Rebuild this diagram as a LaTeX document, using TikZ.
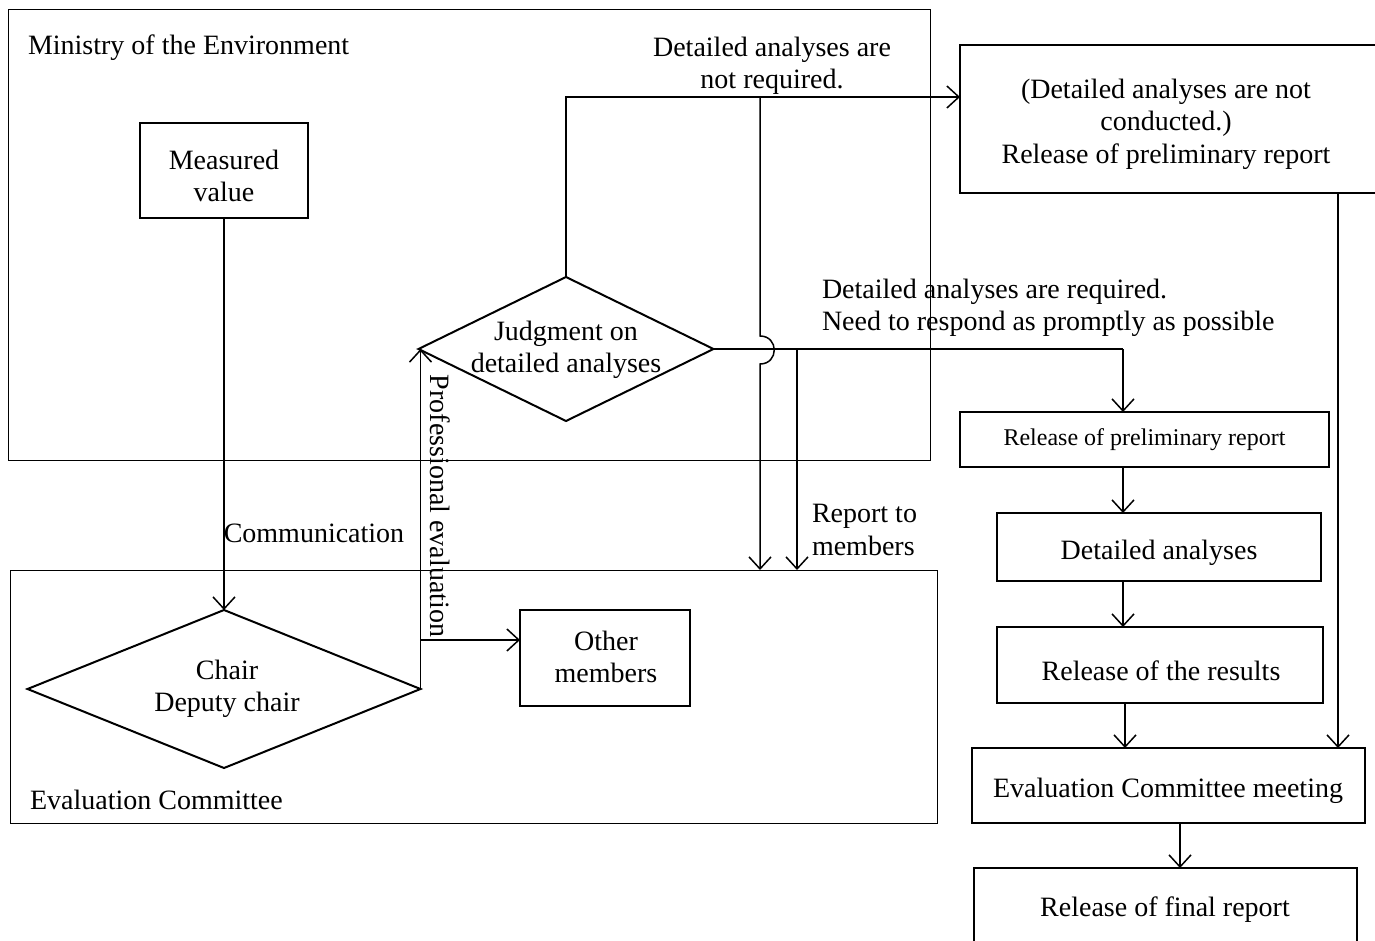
\documentclass[tikz,border=0pt]{standalone}
\usepackage{fontspec}
\setmainfont{Liberation Serif}
\usetikzlibrary{arrows.meta,shapes.geometric}
\begin{document}
\begin{tikzpicture}[x=1pt,y=-1pt,
  every node/.style={font=\fontsize{28}{32.5}\selectfont, inner sep=0pt, outer sep=0pt},
  frame/.style={draw, line width=1pt, rectangle},
  box/.style={draw, line width=2pt, rectangle},
  dia/.style={draw, line width=2pt, diamond},
  conn/.style={line width=1.5pt, -{Straight Barb[length=12pt,width=22pt]}},
  plain/.style={line width=1.5pt},
  lbl/.style={align=center, yshift=-3pt},
  lbll/.style={align=left, anchor=west, yshift=-3pt}]
\useasboundingbox (0,0) rectangle (1375,941);
% frames
\node[frame, minimum width=922pt, minimum height=450pt] (ministry) at (469,235) {};
\node[frame, minimum width=927pt, minimum height=253pt] (committee) at (473.5,696.5) {};
\node[lbll] (mtitle) at (28,45) {Ministry of the Environment};
\node[lbll] (ctitle) at (30,797) {Evaluation Committee};
% left side
\node[box, minimum width=168pt, minimum height=95pt] (meas) at (224,170.5) {};
\node[lbl] (meast) at (224,173) {Measured\\value};
\node[dia, minimum width=393pt, minimum height=158pt] (chair) at (224,689) {};
\node[lbl] (chairt) at (227,686) {Chair\\Deputy chair};
\node[box, minimum width=170pt, minimum height=96pt] (other) at (605,658) {};
\node[lbl] (othert) at (606,654) {Other\\members};
\node[dia, minimum width=295pt, minimum height=144pt] (judge) at (566,349) {};
\node[lbl] (judget) at (566,347) {Judgment on\\detailed analyses};
\node[lbl] (comm) at (314,530) {Communication};
\node[rotate=-90, xshift=0pt] (prof) at (440,506) {Professional evaluation};
% right side
\node[box, minimum width=416pt, minimum height=148pt, anchor=north west] (toprel) at (960,45) {};
\node[lbl] (toprelt) at (1166,121) {(Detailed analyses are not\\conducted.)\\Release of preliminary report};
\node[box, minimum width=369pt, minimum height=55pt] (prelim) at (1144.5,439.5) {};
\node[lbl, font=\fontsize{24}{28}\selectfont] (prelimt) at (1144.5,437) {Release of preliminary report};
\node[box, minimum width=324pt, minimum height=68pt] (detail) at (1159,547) {};
\node[lbl] (detailt) at (1159,550) {Detailed analyses};
\node[box, minimum width=326pt, minimum height=76pt] (results) at (1160,665) {};
\node[lbl] (resultst) at (1161,668) {Release of the results};
\node[box, minimum width=393pt, minimum height=75pt] (meeting) at (1168.5,785.5) {};
\node[lbl] (meetingt) at (1168,788) {Evaluation Committee meeting};
\node[box, minimum width=383pt, minimum height=74pt, anchor=north west] (final) at (974,868) {};
\node[lbl] (finalt) at (1165,907) {Release of final report};
% labels
\node[lbl] (notreq) at (772,63) {Detailed analyses are\\not required.};
\node[lbll] (req) at (822,305) {Detailed analyses are required.\\Need to respond as promptly as possible};
\node[lbll] (rep) at (812,527) {Report to\\members};
% coordinates
\coordinate (ja) at (760,97);
\coordinate (jb) at (797,349);
\coordinate (jc) at (1123,349);
% connectors
\draw[conn] (meas.south) -- (chair.north);
\draw[conn] (chair.east) -- (chair.east |- judge.west);
\draw[conn] (chair.east |- 0,640) -- (other.west |- 0,640);
\draw[conn] (judge.north) -- (judge.north |- ja) -- (toprel.west |- ja);
\draw[conn] (ja) -- (760,336) .. controls (779,336) and (779,364) .. (760,364) -- (ja |- committee.north);
\draw[plain] (judge.east) -- (jc);
\draw[conn] (jc) -- (jc |- prelim.north);
\draw[conn] (jb) -- (jb |- committee.north);
\draw[conn] (1123,0 |- prelim.south) -- (1123,0 |- detail.north);
\draw[conn] (1123,0 |- detail.south) -- (1123,0 |- results.north);
\draw[conn] (1125,0 |- results.south) -- (1125,0 |- meeting.north);
\draw[conn] (1338,0 |- toprel.south) -- (1338,0 |- meeting.north);
\draw[conn] (1180,0 |- meeting.south) -- (1180,0 |- final.north);
\end{tikzpicture}
\end{document}
